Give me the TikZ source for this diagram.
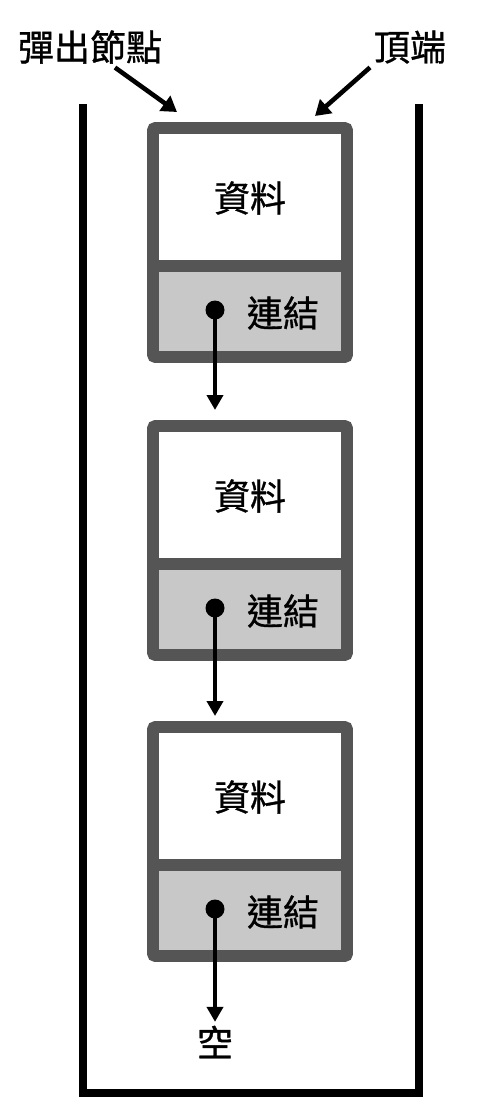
\documentclass[tikz,border=0pt]{standalone}
\usepackage{fontspec}
\setmainfont{Noto Sans CJK TC}[AutoFakeBold=0.9]
\usetikzlibrary{arrows.meta}

\definecolor{boxgray}{RGB}{85,85,85}
\definecolor{linkgray}{RGB}{200,200,200}

\begin{document}
\begin{tikzpicture}[x=0.02cm,y=-0.02cm,
  word/.style={inner sep=2pt,font=\fontsize{20.5}{24}\selectfont\bfseries},
  boxline/.style={draw=boxgray,line width=6.8pt,rounded corners=1.5pt},
  dot/.style={circle,fill=black,inner sep=0pt,minimum size=0.38cm},
  ptr/.style={line width=2.4pt,-{Triangle[width=0.32cm,length=0.3cm]}},
  callout/.style={line width=2.6pt,-{Triangle[width=0.36cm,length=0.3cm]}}]

\useasboundingbox (0,0) rectangle (503,1105);

% stack walls
\draw[line width=5.1pt] (83,104) -- (83,1093) -- (419,1093) -- (419,104);

\node[word] (pop) at (90,47) {彈出節點};
\node[word] (top) at (410,47) {頂端};

\foreach \i/\y in {1/122,2/420,3/721}{
  \draw[boxline,fill=linkgray] (153,\y+6) rectangle (347,\y+235);
  \fill[white] (159,\y+12) rectangle (341,\y+138);
  \draw[draw=boxgray,line width=6.8pt] (156,\y+144) -- (344,\y+144);
  \coordinate (head\i) at (215,\y);
  \node[word] (data\i) at (250,\y+76) {資料};
  \node[word] (link\i) at (283,\y+191) {連結};
  \node[dot] (ptr\i) at (215,\y+188) {};
}

\node[word] (null) at (215,1042) {空};

\draw[ptr,shorten >=0.2cm] (ptr1.center) -- (head2);
\draw[ptr,shorten >=0.1cm] (ptr2.center) -- (head3);
\draw[ptr] (ptr3.center) -- (null.north);

\coordinate (popend) at (177,112);
\coordinate (topend) at (315,116);
\draw[callout] ([xshift=0.5cm]pop.south) -- (popend);
\draw[callout] ([xshift=-0.8cm]top.south) -- (topend);
\end{tikzpicture}
\end{document}
